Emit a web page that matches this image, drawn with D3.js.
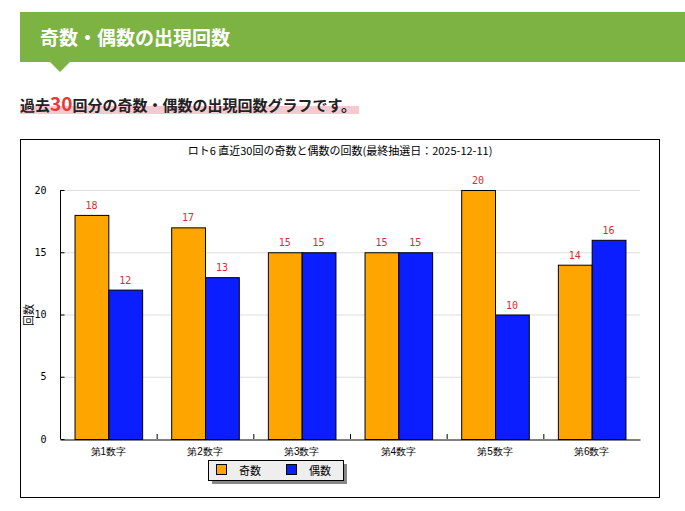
<!DOCTYPE html>
<html><head><meta charset="utf-8">
<script src="https://cdn.jsdelivr.net/npm/d3@7"></script>
<style>body{margin:0;background:#fff;font-family:"Noto Sans CJK JP",sans-serif}</style>
</head><body><svg id="c" width="685" height="511"></svg>
<script>
const categories=['第1数字','第2数字','第3数字','第4数字','第5数字','第6数字'];
const odd=[18,17,15,15,20,14];
const even=[12,13,15,15,10,16];
const series=[{name:'奇数',values:odd,color:'#ffa500'},{name:'偶数',values:even,color:'#0a1eff'}];
const yTicks=[0,5,10,15,20];

const svg=d3.select('#c');
// header
svg.append('rect').attr('x',20).attr('y',12).attr('width',665).attr('height',50).attr('fill','#7cb342');
svg.append('path').attr('d','M50,62 L70,62 L60,72 Z').attr('fill','#7cb342');
svg.append('text').attr('x',40).attr('y',45).attr('fill','#fff').attr('font-size',19).attr('font-weight','bold').text('奇数・偶数の出現回数');
svg.append('rect').attr('x',20).attr('y',106).attr('width',339).attr('height',8).attr('fill','#f8c8d0');
const st=svg.append('text').attr('x',20).attr('y',111).attr('font-size',15).attr('font-weight','bold').attr('fill','#222');
st.append('tspan').text('過去');
st.append('tspan').attr('fill','#e53935').attr('font-size',19).text('30');
st.append('tspan').text('回分の奇数・偶数の出現回数グラフです。');

// chart box
svg.append('rect').attr('x',20.5).attr('y',139.5).attr('width',639).attr('height',358).attr('fill','#fff').attr('stroke','#000');
svg.append('text').attr('x',340).attr('y',155).attr('text-anchor','middle').attr('font-size',11).text('ロト6 直近30回の奇数と偶数の回数(最終抽選日：2025-12-11)');

const x=d3.scaleBand().domain(categories).range([60,640]);
const y=d3.scaleLinear().domain([0,20]).range([439,190]);
const xs=d3.scaleBand().domain([0,1]).range([0,x.bandwidth()]).paddingOuter(0.3*0+0.43).paddingInner(0);

svg.append('g').selectAll('line').data(yTicks.slice(1)).join('line')
  .attr('x1',60).attr('x2',640).attr('y1',d=>y(d)+.5).attr('y2',d=>y(d)+.5).attr('stroke','#ddd');

const ya=svg.append('g').attr('transform','translate(60.5,0)')
  .call(d3.axisLeft(y).tickValues(yTicks).tickSize(-4).tickPadding(14));
ya.select('.domain').attr('d','M0,190V439');
ya.selectAll('text').attr('font-size',10).attr('font-family','DejaVu Sans Mono');

series.forEach((s,i)=>{
  svg.append('g').selectAll('rect').data(s.values).join('rect')
    .attr('x',(d,j)=>x(categories[j])+xs(i)+.5).attr('y',d=>y(d)+.5)
    .attr('width',xs.bandwidth()).attr('height',d=>y(0)-y(d))
    .attr('fill',s.color).attr('stroke','#000');
  svg.append('g').selectAll('text').data(s.values).join('text')
    .attr('x',(d,j)=>x(categories[j])+xs(i)+xs.bandwidth()/2).attr('y',d=>y(d)-6)
    .attr('text-anchor','middle').attr('font-size',10).attr('fill','#d32f2f').attr('font-family','DejaVu Sans Mono').text(d=>d);
});

const xa=svg.append('g').attr('transform','translate(0,439.5)')
  .call(d3.axisBottom(x).tickSize(0).tickPadding(8));
xa.selectAll('text').attr('font-size',10);
xa.selectAll('.tick line').remove();
svg.append('g').selectAll('line').data(categories.slice(1)).join('line')
  .attr('x1',d=>x(d)+.5).attr('x2',d=>x(d)+.5).attr('y1',434).attr('y2',439).attr('stroke','#000');

svg.append('text').attr('transform','translate(33,315) rotate(-90)').attr('text-anchor','middle').attr('font-size',11).text('回数');

// legend
svg.append('rect').attr('x',212).attr('y',464).attr('width',135).attr('height',20).attr('fill','#888');
svg.append('rect').attr('x',208.5).attr('y',460.5).attr('width',135).attr('height',20).attr('fill','#eee').attr('stroke','#000');
series.forEach((s,i)=>{
  svg.append('rect').attr('x',216.5+i*70).attr('y',464.5).attr('width',10).attr('height',10).attr('fill',s.color).attr('stroke','#000');
  svg.append('text').attr('x',239+i*70).attr('y',475).attr('font-size',11).text(s.name);
});
</script></body></html>
